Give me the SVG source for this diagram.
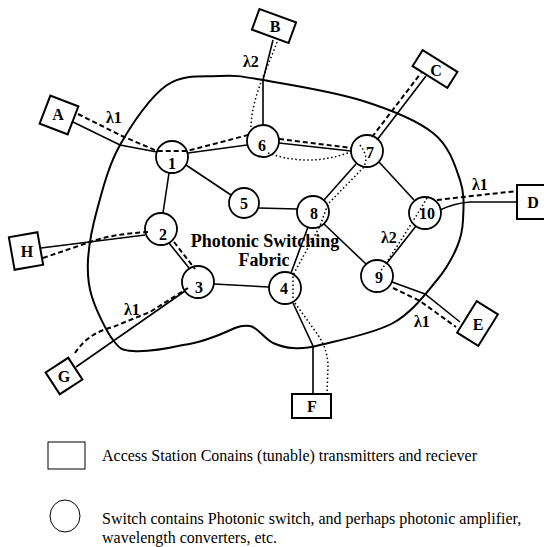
<svg xmlns="http://www.w3.org/2000/svg" width="544" height="547" viewBox="0 0 544 547">
<style>
.fab{fill:none;stroke:#000;stroke-width:2}
.box{fill:#fff;stroke:#000;stroke-width:2}
.sw{fill:#fff;stroke:#000;stroke-width:1.8}
.s{fill:none;stroke:#000;stroke-width:1.6}
.d{fill:none;stroke:#000;stroke-width:2;stroke-dasharray:5 3}
.o{fill:none;stroke:#000;stroke-width:1.5;stroke-dasharray:1.5 2.5}
.lb{font-family:"Liberation Serif","Times New Roman",serif;font-weight:bold;font-size:16px;text-anchor:middle;fill:#000}
.lam{font-family:"Liberation Serif","Times New Roman",serif;font-weight:bold;font-size:16px;fill:#000}
.ttl{font-family:"Liberation Serif","Times New Roman",serif;font-weight:bold;font-size:18px;text-anchor:middle;fill:#000}
.leg{font-family:"Liberation Serif","Times New Roman",serif;font-size:16px;fill:#000}
</style>
<rect width="544" height="547" fill="#fff"/>
<g id="fabric">
<path class="fab" d="M263,80 C286.3,84 331.7,91.2 360,100 C388.3,108.8 416.3,119.7 433,133 C449.7,146.3 455,165.5 460,180 C465,194.5 463.5,208.8 463,220 C462.5,231.2 461.3,237 457,247 C452.7,257 447.7,267.3 437,280 C426.3,292.7 412.5,312.2 393,323 C373.5,333.8 336.7,340.8 320,345 C303.3,349.2 300.8,348.3 293,348 C285.2,347.7 280,346 273,343 C263,337 257,327 250,326 C244,325 240,326 235,328 C222,334 200,343 183,345 C166,348.8 144.7,351.8 133,351 C121.3,350.2 119.8,349 113,340 C106.2,331 96.2,310.3 92,297 C87.8,283.7 87.2,274.5 88,260 C88.8,245.5 91.7,229.2 97,210 C102.3,190.8 108.3,165.8 120,145 C131.7,124.2 150.3,96.5 167,85 C183.7,73.5 204,76.8 220,76 C236,75.2 239.7,76 263,80 Z"/>
<text class="ttl" x="265" y="247">Photonic Switching</text>
<text class="ttl" x="264" y="266">Fabric</text>
</g>
<g id="nodes">
<g id="n1"><circle class="sw" cx="172" cy="157" r="16"/><text class="lb" x="172" y="169">1</text></g>
<g id="n2"><circle class="sw" cx="161" cy="229" r="16"/><text class="lb" x="163" y="240">2</text></g>
<g id="n3"><circle class="sw" cx="198" cy="282" r="16"/><text class="lb" x="199" y="293">3</text></g>
<g id="n4"><circle class="sw" cx="285" cy="288" r="16"/><text class="lb" x="284" y="294">4</text></g>
<g id="n5"><circle class="sw" cx="244" cy="203" r="15"/><text class="lb" x="244" y="209">5</text></g>
<g id="n6"><circle class="sw" cx="263" cy="141" r="16"/><text class="lb" x="262" y="151">6</text></g>
<g id="n7"><circle class="sw" cx="367" cy="151" r="16"/><text class="lb" x="370" y="158">7</text></g>
<g id="n8"><circle class="sw" cx="313" cy="212" r="16"/><text class="lb" x="314" y="219">8</text></g>
<g id="n9"><circle class="sw" cx="377" cy="276" r="16"/><text class="lb" x="379" y="283">9</text></g>
<g id="n10"><circle class="sw" cx="425" cy="213" r="16"/><text class="lb" x="427" y="219">10</text></g>
<g id="A"><rect class="box" x="44" y="100" width="30" height="30" transform="rotate(21 59 115)"/><text class="lb" x="58" y="120">A</text></g>
<g id="B"><rect class="box" x="254.5" y="15" width="39" height="22" transform="rotate(20 274 26)"/><text class="lb" x="275" y="32">B</text></g>
<g id="C"><rect class="box" x="414.5" y="59.5" width="41" height="19" transform="rotate(32 435 69)"/><text class="lb" x="436" y="76">C</text></g>
<g id="D"><rect class="box" x="517" y="185" width="40" height="34"/><text class="lb" x="533" y="208">D</text></g>
<g id="E"><rect class="box" x="465" y="305" width="25" height="37" transform="rotate(32 477.5 323.5)"/><text class="lb" x="478" y="330">E</text></g>
<g id="F"><rect class="box" x="292" y="394" width="39" height="24"/><text class="lb" x="312" y="412">F</text></g>
<g id="G"><rect class="box" x="50.5" y="363" width="27" height="26" transform="rotate(-33 64 376)"/><text class="lb" x="64" y="382">G</text></g>
<g id="H"><rect class="box" x="11.5" y="234.5" width="29" height="33" transform="rotate(-10 26 251)"/><text class="lb" x="27" y="257">H</text></g>
</g>
<g id="connectors">
<path class="s" d="M73,122 L120,145 L157,152"/>
<path class="s" d="M188,153 L247,145"/>
<path class="s" d="M279,143 L351,151"/>
<path class="s" d="M273,40 L263,80 L263,125"/>
<path class="s" d="M377,140 L426,76"/>
<path class="s" d="M356,164 L324,200"/>
<path class="s" d="M379,162 L414,200"/>
<path class="s" d="M186,165 L231,195"/>
<path class="s" d="M259,208 L297,209"/>
<path class="s" d="M169,173 L163,213"/>
<path class="s" d="M169,243 L189,268"/>
<path class="s" d="M214,284 L269,287"/>
<path class="s" d="M324,224 L366,264"/>
<path class="s" d="M308,227 L291,273"/>
<path class="s" d="M416,226 L387,263"/>
<path class="s" d="M440,210 Q455,203 470,202 L517,202"/>
<path class="s" d="M392,282 L425,294 L460,322"/>
<path class="s" d="M293,303 L313,346 L313,394"/>
<path class="s" d="M41,248 L145,235"/>
<path class="s" d="M76,367 L185,291"/>
<path class="d" d="M78,114 L122,136 L157,151 L187,151 L248,135"/>
<path class="d" d="M279,139 L352,148"/>
<path class="d" d="M372,137 L421,73"/>
<path class="d" d="M437,200 L463,197 L517,191"/>
<path class="d" d="M393,288 L420,301 L456,327"/>
<path class="d" d="M75,353 Q88,333 113,327 L150,312 L188,288"/>
<path class="d" d="M43,258 L90,242 Q112,234 148,232"/>
<path class="d" d="M174,242 L195,269"/>
<path class="o" d="M277,42 C268,68 252,95 251,127"/>
<path class="o" d="M268,153 Q310,168 353,151"/>
<path class="o" d="M360,145 Q370,158 363,168 L328,204 L320,226 L293,275 L293,300"/>
<path class="o" d="M295,303 L318,335 Q328,350 328,367 L327,394"/>
<path class="o" d="M427,198 Q405,235 380,272"/>
</g>
<g id="labels">
<text class="lam" x="106" y="123">λ1</text>
<text class="lam" x="243" y="67">λ2</text>
<text class="lam" x="472" y="190">λ1</text>
<text class="lam" x="381" y="243">λ2</text>
<text class="lam" x="414" y="327">λ1</text>
<text class="lam" x="124" y="315">λ1</text>
</g>
<g id="legend">
<rect x="48" y="442" width="37" height="27" fill="#fff" stroke="#000" stroke-width="1"/>
<text class="leg" x="102" y="461">Access Station Conains (tunable) transmitters and reciever</text>
<ellipse cx="65" cy="516" rx="15" ry="16" fill="#fff" stroke="#000" stroke-width="1"/>
<text class="leg" x="102" y="524">Switch contains Photonic switch, and perhaps photonic amplifier,</text>
<text class="leg" x="102" y="543">wavelength converters, etc.</text>
</g>
</svg>
